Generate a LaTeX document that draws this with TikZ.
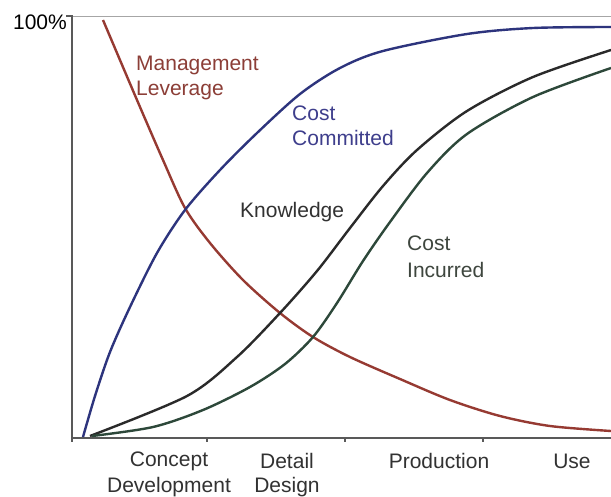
\documentclass[tikz,border=0pt]{standalone}
\usepackage{fontspec}
\setmainfont{Liberation Sans}
\begin{document}
\begin{tikzpicture}[x=1pt,y=-1pt,
  lbl/.style={font=\fontsize{21}{25}\selectfont, inner sep=0pt, anchor=west},
  axis/.style={draw=black!65, line width=1.2pt},
  curve/.style={line width=2.4pt, smooth, tension=0.5},
]
\definecolor{cred}{RGB}{150,58,50}
\definecolor{cblue}{RGB}{45,52,125}
\definecolor{cblack}{RGB}{42,42,42}
\definecolor{cgreen}{RGB}{45,72,58}
\definecolor{tred}{RGB}{140,62,55}
\definecolor{tblue}{RGB}{62,62,140}
\definecolor{tdark}{RGB}{50,50,50}
\definecolor{tgreen}{RGB}{62,70,62}
\useasboundingbox[fill=white] (0,0) rectangle (611,496);
% top reference line
\draw[draw=black!35, line width=1pt] (72,16) -- (611,16);
% axes
\coordinate (o) at (72,438);
\coordinate (ytop) at (72,16);
\coordinate (xend) at (611,438);
\draw[axis] (66,16) -- (ytop) -- (o) -- (xend);
\foreach \x in {72,207,345,483} \draw[axis] (\x,438) -- (\x,442);
% curves
\draw[cred, curve] plot coordinates {(103,20) (137,100) (163,160) (185,208) (210,243) (243,280) (280,313) (313,337) (350,357) (400,379) (450,400) (500,416) (550,426) (611,431)};
\draw[cblue, curve] plot coordinates {(83,437) (95,396) (110,352) (130,307) (157,253) (185,210) (220,170) (257,133) (300,94) (340,68) (383,51) (467,34) (533,28) (611,27)};
\draw[cblack, curve] plot coordinates {(90,436) (187,396) (237,357) (280,313) (317,271) (350,228) (383,186) (417,150) (467,111) (533,77) (611,50)};
\draw[cgreen, curve] plot coordinates {(92,436) (153,427) (203,410) (250,387) (285,364) (313,337) (337,303) (363,261) (390,222) (427,173) (467,134) (533,97) (611,68)};
% labels
\node[lbl, anchor=east] (pct) at (67,22) {100\%};
\node[lbl, tred] (ml1) at (136,65) {Management};
\node[lbl, tred] (ml2) at (136,90) {Leverage};
\node[lbl, tblue] (cc1) at (292,113) {Cost};
\node[lbl, tblue] (cc2) at (292,138) {Committed};
\node[lbl, tdark] (kn) at (240,212) {Knowledge};
\node[lbl, tgreen] (ci1) at (407,243) {Cost};
\node[lbl, tgreen] (ci2) at (407,270) {Incurred};
\node[lbl, tdark, anchor=center] (cd1) at (169,461) {Concept};
\node[lbl, tdark, anchor=center] (cd2) at (169,487) {Development};
\node[lbl, tdark, anchor=center] (dd1) at (287,461) {Detail};
\node[lbl, tdark, anchor=center] (dd2) at (287,487) {Design};
\node[lbl, tdark, anchor=center] (pr) at (439,461) {Production};
\node[lbl, tdark, anchor=center] (us) at (572,461) {Use};
\end{tikzpicture}
\end{document}
